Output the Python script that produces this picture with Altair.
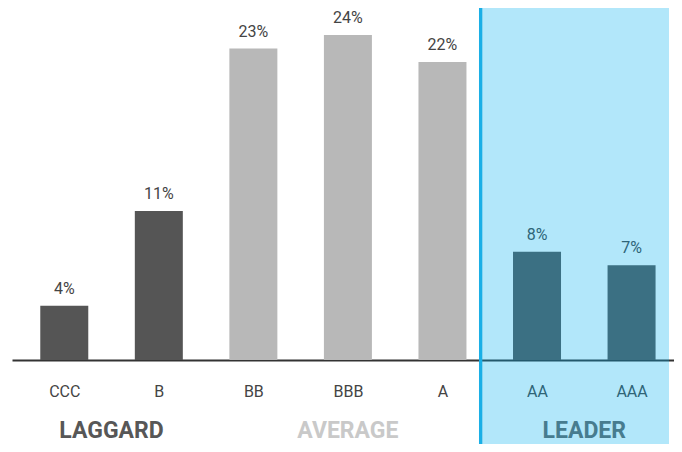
import json
import altair as alt
import pandas as pd

categories = ["CCC", "B", "BB", "BBB", "A", "AA", "AAA"]
values = [4, 11, 23, 24, 22, 8, 7]
groups = ["LAGGARD", "LAGGARD", "AVERAGE", "AVERAGE", "AVERAGE", "LEADER", "LEADER"]
group_names = ["LAGGARD", "AVERAGE", "LEADER"]
bar_colors = ["#555555", "#b8b8b8", "#555555"]
group_text_colors = ["#575757", "#c9c9c9", "#666666"]

df = pd.DataFrame({"cat": categories, "idx": list(range(len(categories))),
                   "value": values, "group": groups})
gdf = df.groupby("group", sort=False)["idx"].mean().reset_index()

xscale = alt.Scale(domain=[-0.5, 6.396], nice=False, zero=False)
yscale = alt.Scale(domain=[0, 25.7], nice=False)

x = alt.X("idx:Q", scale=xscale,
          axis=alt.Axis(values=list(range(len(categories))),
                        labelExpr=f"{json.dumps(categories)}[datum.value]",
                        title=None, grid=False, ticks=False, tickSize=0,
                        domainColor="#333333", domainWidth=2,
                        labelFont="Roboto", labelFontSize=16, labelColor="#444444",
                        labelPadding=23, labelFlush=False, labelOverlap=False,
                        zindex=0))
y = alt.Y("value:Q", scale=yscale, axis=None)

base = alt.Chart(df).transform_calculate(label="datum.value + '%'")

bars = base.mark_bar(width=48).encode(
    x=x, y=y,
    color=alt.Color("group:N", scale=alt.Scale(domain=group_names, range=bar_colors), legend=None),
)

pct = base.mark_text(dy=-12, baseline="alphabetic", font="Roboto", fontSize=16,
                     color="#444444").encode(x=x, y=y, text="label:N")

gtext = alt.Chart(gdf).mark_text(font="Roboto", fontSize=23, fontWeight="bold",
                                 baseline="alphabetic").encode(
    x=alt.X("idx:Q", scale=xscale),
    y=alt.value(426),
    text="group:N",
    color=alt.Color("group:N", scale=alt.Scale(domain=group_names, range=group_text_colors), legend=None),
)

overlay = alt.Chart(pd.DataFrame({"a": [0]})).mark_rect(
    color="#00AEEF", opacity=0.3, xOffset=-7, x2Offset=0
).encode(x=alt.datum(4.5), x2=alt.datum(6.396), y=alt.value(-4), y2=alt.value(432))

divider = alt.Chart(pd.DataFrame({"a": [0]})).mark_rule(
    color="#1AAFE6", strokeWidth=3.5, xOffset=-9
).encode(x=alt.datum(4.5), y=alt.value(-4), y2=alt.value(432))

chart = alt.layer(bars, pct, gtext, overlay, divider).resolve_scale(
    color="independent"
).properties(
    width=662, height=348,
    autosize=alt.AutoSizeParams(type="none"),
    padding={"left": 4, "top": 4, "right": 0, "bottom": 84},
    background="white",
).configure_view(stroke=None)

chart.save("out.html", embed_options={"renderer": "svg", "actions": False})
